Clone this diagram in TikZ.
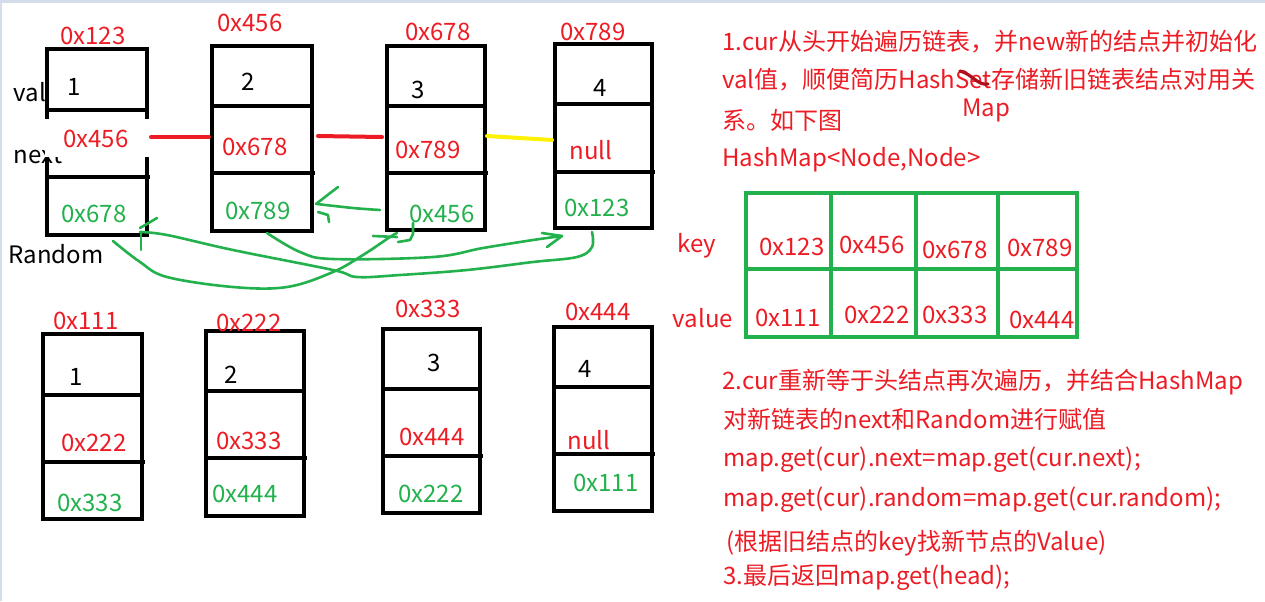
\documentclass[tikz,border=0pt]{standalone}
\usepackage{fontspec}
\setmainfont{Noto Sans CJK SC}
\definecolor{pred}{HTML}{ED1C24}
\definecolor{pgreen}{HTML}{22B14C}
\definecolor{pyellow}{HTML}{FFF200}
\definecolor{pdark}{HTML}{B0101A}
\definecolor{edgecol}{HTML}{D5DDEB}
\newcommand\myfs{\fontsize{12}{14}\selectfont}
\newcommand\mybox[6]{%
  \draw[box] (#1,#3) rectangle (#2,#6);
  \draw[box] (#1,#4) -- (#2,#4);
  \draw[box] (#1,#5) -- (#2+3,#5);}
\tikzset{
  box/.style={line width=2pt, draw=black},
  txt/.style={font=\myfs, inner sep=0pt},
  rt/.style={txt, text=pred},
  gt/.style={txt, text=pgreen},
  bt/.style={txt, text=black},
  link/.style={line width=2pt, line cap=round},
  rnd/.style={draw=pgreen, line width=1.3pt, line cap=round, line join=round},
  grid/.style={draw=pgreen, line width=1.8pt},
}
\begin{document}
\begin{tikzpicture}[x=0.5pt,y=-0.5pt]
\useasboundingbox (0,0) rectangle (1265,601);
\fill[white] (0,0) rectangle (1265,601);
\fill[edgecol] (0,0) rectangle (1265,3);
\fill[edgecol] (0,0) rectangle (2,601);

% ---------- old list ----------
\node[bt] (lval) at (30,92) {val};
\node[bt] (lnext) at (38,155) {next};
\node[bt] (lrand) at (56,254) {Random};
\mybox{47}{147}{49}{110}{177}{235}
\mybox{212}{312}{46}{106}{173}{231}
\mybox{387}{485}{46}{106}{173}{230}
\mybox{555}{652}{44}{104}{172}{228}
\fill[white] (45,119) rectangle (149,157);

\node[rt] (h1) at (93,36) {0x123};
\node[rt] (h2) at (250,23) {0x456};
\node[rt] (h3) at (438,32) {0x678};
\node[rt] (h4) at (593,32) {0x789};
\node[bt] (v1) at (74,87) {1};
\node[bt] (v2) at (248,82) {2};
\node[bt] (v3) at (418,90) {3};
\node[bt] (v4) at (600,88) {4};
\node[rt] (n1) at (96,139) {0x456};
\node[rt] (n2) at (255,147) {0x678};
\node[rt] (n3) at (428,150) {0x789};
\node[rt] (n4) at (591,150) {null};
\node[gt] (r1) at (94,214) {0x678};
\node[gt] (r2) at (258,211) {0x789};
\node[gt] (r3) at (442,214) {0x456};
\node[gt] (r4) at (597,208) {0x123};

\coordinate (a1) at (151,137); \coordinate (b1) at (209,137);
\coordinate (a2) at (318,136); \coordinate (b2) at (382,137);
\coordinate (a3) at (487,136); \coordinate (b3) at (552,140);
\draw[link, pred] (a1) -- (b1);
\draw[link, pred] (a2) -- (b2);
\draw[link, pyellow] (a3) -- (b3);

% random pointers (hand drawn)
\draw[rnd] plot[smooth, tension=0.6] coordinates {(113,241) (140,262) (167,277) (233,287) (287,287) (333,272) (363,255) (390,237) (397,233)};
\draw[rnd] (373,236) -- (397,237);
\draw[rnd] (398,242) -- (410,240) -- (413,234) -- (413,223);
\draw[rnd] plot[smooth, tension=0.6] coordinates {(267,233) (300,252) (333,259) (433,257) (483,248) (533,240) (562,236)};
\draw[rnd] (542,233) -- (562,236) -- (547,247);
\draw[rnd] plot[smooth, tension=0.6] coordinates {(380,210) (353,208) (317,204)};
\draw[rnd] (338,187) -- (325,197) -- (316,204);
\draw[rnd] (318,212) -- (328,215) -- (329,222);
\draw[rnd] plot[smooth, tension=0.6] coordinates {(592,232) (592,247) (577,257) (533,262) (467,270) (400,275) (357,277) (333,270) (233,250) (167,235) (140,232)};
\draw[rnd] (140,228) -- (157,218);
\draw[rnd] (141,232) -- (141,250);

% ---------- new list ----------
\mybox{43}{142}{334}{395}{462}{519}
\mybox{206}{304}{331}{391}{458}{516}
\mybox{383}{480}{329}{389}{456}{513}
\mybox{554}{652}{327}{387}{454}{511}
\node[rt] (H1) at (86,321) {0x111};
\node[rt] (H2) at (249,323) {0x222};
\node[rt] (H3) at (428,309) {0x333};
\node[rt] (H4) at (598,312) {0x444};
\node[bt] (V1) at (76,377) {1};
\node[bt] (V2) at (231,375) {2};
\node[bt] (V3) at (434,363) {3};
\node[bt] (V4) at (585,369) {4};
\node[rt] (N1) at (94,443) {0x222};
\node[rt] (N2) at (249,441) {0x333};
\node[rt] (N3) at (432,437) {0x444};
\node[rt] (N4) at (589,440) {null};
\node[gt] (R1) at (90,503) {0x333};
\node[gt] (R2) at (245,494) {0x444};
\node[gt] (R3) at (431,494) {0x222};
\node[gt] (R4) at (606,483) {0x111};

% ---------- hash map table ----------
\draw[grid] (746,193) rectangle (1077,337);
\draw[grid] (746,269) -- (1077,269);
\draw[grid] (831,193) -- (831,337);
\draw[grid] (916,193) -- (916,337);
\draw[grid] (998,193) -- (998,337);
\node[rt] (kk) at (697,246) {key};
\node[rt] (vv) at (703,318) {value};
\node[rt] (k1) at (792,247) {0x123};
\node[rt] (k2) at (872,245) {0x456};
\node[rt] (k3) at (955,250) {0x678};
\node[rt] (k4) at (1040,248) {0x789};
\node[rt] (w1) at (788,318) {0x111};
\node[rt] (w2) at (877,315) {0x222};
\node[rt] (w3) at (955,315) {0x333};
\node[rt] (w4) at (1042,320) {0x444};

% ---------- explanation ----------
\node[rt, anchor=west] (t1) at (722,42) {1.cur从头开始遍历链表，并new新的结点并初始化};
\node[rt, anchor=west] (t2) at (722,80) {val值，顺便简历HashSet存储新旧链表结点对用关};
\node[rt] (t2b) at (986,110) {Map};
\draw[pdark, line width=1.6pt, line cap=round] (960,71) .. controls (972,74) and (978,86) .. (988,84);
\node[rt, anchor=west] (t3) at (722,120) {系。如下图};
\node[rt, anchor=west] (t4) at (722,160) {HashMap<Node,Node>};
\node[rt, anchor=west] (s1) at (722,382) {2.cur重新等于头结点再次遍历，并结合HashMap};
\node[rt, anchor=west] (s2) at (723,419) {对新链表的next和Random进行赋值};
\node[rt, anchor=west] (s3) at (723,460) {map.get(cur).next=map.get(cur.next);};
\node[rt, anchor=west] (s4) at (723,500) {map.get(cur).random=map.get(cur.random);};
\node[rt, anchor=west] (s5) at (726,543) {(根据旧结点的key找新节点的Value)};
\node[rt, anchor=west] (s6) at (723,578) {3.最后返回map.get(head);};
\end{tikzpicture}
\end{document}
